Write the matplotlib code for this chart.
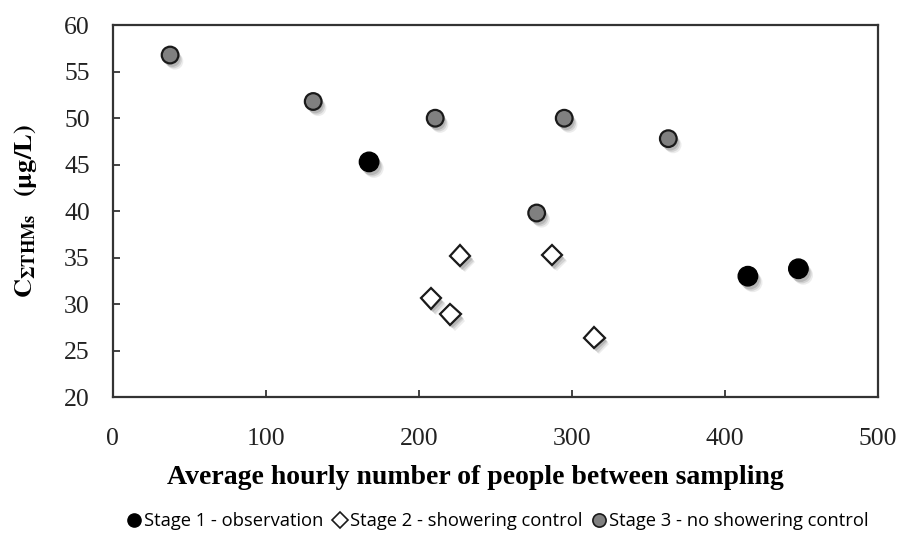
import matplotlib
matplotlib.use("Agg")
import matplotlib.pyplot as plt
import matplotlib.patheffects as pe
from matplotlib.lines import Line2D

stage1_x = [167.5, 415, 448]
stage1_y = [45.3, 33.0, 33.8]
stage2_x = [208, 220.5, 227, 287, 314.6]
stage2_y = [30.6, 28.9, 35.2, 35.3, 26.4]
stage3_x = [37.5, 131, 210.7, 277, 295, 363]
stage3_y = [56.8, 51.8, 50.0, 39.8, 50.0, 47.8]

x_ticks = [0, 100, 200, 300, 400, 500]
y_ticks = [20, 25, 30, 35, 40, 45, 50, 55, 60]

plt.rcParams['mathtext.fontset'] = 'stix'

fig = plt.figure(figsize=(9.01, 5.34), dpi=100)
ax = fig.add_axes([112.7/901, 1-397/534, (878-112.7)/901, (397-25.3)/534])

shadow = [
    pe.SimplePatchShadow(offset=(3.5, -4.5), shadow_rgbFace='#999999', alpha=0.18),
    pe.SimplePatchShadow(offset=(2.5, -3.5), shadow_rgbFace='#888888', alpha=0.25),
    pe.SimplePatchShadow(offset=(1.5, -2.5), shadow_rgbFace='#777777', alpha=0.3),
    pe.Normal(),
]

ax.plot(stage3_x, stage3_y, 'o', ms=12, mfc='#808080', mec='#1a1a1a', mew=1.6, path_effects=shadow, zorder=3)
ax.plot(stage2_x, stage2_y, 'D', ms=10.5, mfc='white', mec='#1a1a1a', mew=1.6, path_effects=shadow, zorder=3)
ax.plot(stage1_x, stage1_y, 'o', ms=14, mfc='black', mec='black', mew=1, path_effects=shadow, zorder=3)

ax.set_xlim(0, 500)
ax.set_ylim(20, 60)
ax.set_xticks(x_ticks)
ax.set_yticks(y_ticks)
ax.tick_params(direction='in', length=5, width=1.2, labelsize=18.5, colors='#222222')
ax.tick_params(axis='x', pad=22)
ax.tick_params(axis='y', pad=16.5)
for lab in ax.get_xticklabels() + ax.get_yticklabels():
    lab.set_family('Liberation Serif')
for s in ax.spines.values():
    s.set_linewidth(1.6)
    s.set_color('#333333')

ax.set_xlabel('Average hourly number of people between sampling', fontsize=20,
              fontweight='bold', family='Liberation Serif', va='center')
ax.xaxis.set_label_coords((475-112.7)/765.3, (397-477)/371.7)
ax.set_ylabel(r'$\mathbf{C}_{\mathbf{\Sigma THMs}}$  $\mathbf{(\mu g/L)}$', fontsize=19, labelpad=18)

handles = [
    Line2D([], [], ls='none', marker='o', ms=9.5, mfc='black', mec='black'),
    Line2D([], [], ls='none', marker='D', ms=8, mfc='white', mec='#1a1a1a', mew=1.2),
    Line2D([], [], ls='none', marker='o', ms=9.5, mfc='#808080', mec='#1a1a1a', mew=1.2),
]
labels = ['Stage 1 - observation', 'Stage 2 - showering control', 'Stage 3 - no showering control']
fig.legend(handles, labels, loc='center', bbox_to_anchor=(497/901, 1-521/534), ncol=3, frameon=False,
           prop={'family': 'Open Sans', 'size': 13.2}, handletextpad=0.05, columnspacing=0.4,
           handlelength=1.0, borderaxespad=0)

fig.savefig('out.png', dpi=100)
